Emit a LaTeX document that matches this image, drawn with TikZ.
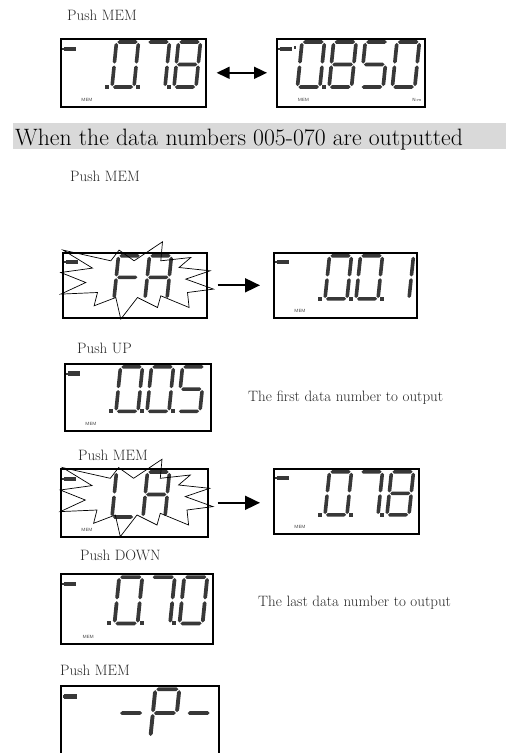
\documentclass[tikz,border=0pt]{standalone}
\usepackage{xcolor}
\usepackage{tikz}
\usetikzlibrary{arrows.meta}
\definecolor{lcd}{HTML}{383838}
\definecolor{banda}{HTML}{D9D9D9}

% segmenti lcd
\newcommand{\hseg}[3]{\fill[lcd] (#1,#3) -- (#1+1.8,#3+1.8) -- (#2-1.8,#3+1.8) -- (#2,#3) -- (#2-1.8,#3-1.8) -- (#1+1.8,#3-1.8) -- cycle;}
\newcommand{\vseg}[3]{\fill[lcd] (#1,#2) -- (#1+1.8,#2+1.8) -- (#1+1.8,#3-1.8) -- (#1,#3) -- (#1-1.8,#3-1.8) -- (#1-1.8,#2+1.8) -- cycle;}
\newcommand{\segA}{\hseg{0.9}{21.1}{45}}
\newcommand{\segB}{\vseg{22}{23.4}{44.1}}
\newcommand{\segC}{\vseg{22}{0.9}{21.6}}
\newcommand{\segD}{\hseg{0.9}{21.1}{0}}
\newcommand{\segE}{\vseg{0}{0.9}{21.6}}
\newcommand{\segF}{\vseg{0}{23.4}{44.1}}
\newcommand{\segG}{\hseg{0.9}{21.1}{22.5}}
\newcommand{\lcddigit}[2]{%
  \begin{scope}[shift={(21+31*#1-31,49)}, xslant=0.1, yscale=-1]
    \foreach \s in {#2} {\csname seg\s\endcsname}
  \end{scope}}
\newcommand{\lcddot}[1]{\fill[lcd] ({21+31*#1-31+24.3},50.8) rectangle ++(3.8,-3.8);}
\newcommand{\battery}{\fill[lcd] (3.5,8.5) rectangle (15.5,13); \fill[lcd] (2.3,9.7) rectangle (3.5,11.8);}
\newcommand{\memtext}[1]{\node[memlbl] (#1) at (27,62) {MEM};}
\newcommand{\burst}[1]{%
  \begin{scope}[shift={(#1)}]
    \draw[starline] (-71.7,-35.2) -- (-24,-24.5) -- (-15.7,-35.2) -- (-0.7,-24.5) -- (27.7,-43.5)
      -- (26,-24.5) -- (56,-27.8) -- (44.3,-17.8) -- (75.3,-14.5) -- (51,-6.2) -- (78.7,3.8)
      -- (52.7,7.2) -- (54.3,22.2) -- (26,10.5) -- (22.7,22.2) -- (2.7,12.2) -- (-14,33.8)
      -- (-19,12.2) -- (-40.7,20.5) -- (-37.3,7.2) -- (-74,8.8) -- (-49,-2.8) -- (-74,-12.8)
      -- (-42.3,-17.2) -- cycle;
  \end{scope}}

\tikzset{
  lcdbox/.style={draw, line width=1.6pt, anchor=north west, inner sep=0pt, fill=white},
  memlbl/.style={font=\fontsize{4.5}{5}\selectfont\sffamily, text=lcd, inner sep=0pt},
  lbl/.style={font=\fontsize{15}{18}\selectfont, text=black!85, inner sep=0pt, anchor=base west},
  titolo/.style={font=\fontsize{23.7}{28}\selectfont, inner sep=0pt, anchor=base west},
  starline/.style={line width=0.7pt, line join=miter},
  arr/.style={line width=1.8pt, -{Triangle[length=15pt,width=14pt]}},
  dblarr/.style={line width=1.6pt, {Triangle[length=13pt,width=12pt]}-{Triangle[length=13pt,width=12pt]}}
}

\begin{document}
\begin{tikzpicture}[x=1pt, y=-1pt]
  \useasboundingbox (0,0) rectangle (524,753);

  % prima riga
  \node[lbl] (push1) at (67,20.7) {Push MEM};
  \node[lcdbox, minimum width=145, minimum height=68] (d1) at (60,38) {};
  \begin{scope}[shift={(60,38)}]
    \battery \memtext{mem1}
    \lcddot{1} \lcddigit{2}{A,B,C,D,E,F} \lcddot{2} \lcddigit{3}{A,B,C} \lcddot{3} \lcddigit{4}{A,B,C,D,E,F,G}
  \end{scope}
  \node[lcdbox, minimum width=148, minimum height=68] (d2) at (276,38) {};
  \begin{scope}[shift={(276,38)}, xscale=148/145]
    \battery \memtext{mem2}
    \fill[lcd] (18,8) rectangle (20,11);
    \node[memlbl] (nm) at (138,62) {N-m};
    \lcddigit{1}{A,B,C,D,E,F} \lcddot{1} \lcddigit{2}{A,B,C,D,E,F,G} \lcddigit{3}{A,C,D,F,G} \lcddigit{4}{A,B,C,D,E,F}
  \end{scope}
  \draw[dblarr, shorten <=10pt, shorten >=9pt] (d1.east) -- (d2.west);

  % fascia
  \fill[banda] (13,123) rectangle (506,149);
  \node[titolo] (tit) at (15,145) {When the data numbers 005-070 are outputted};

  % FA
  \node[lbl] (push2) at (70,181.7) {Push MEM};
  \node[lcdbox, minimum width=144, minimum height=65] (fa) at (62,252) {};
  \begin{scope}[shift={(62,252)}, yscale=65/68]
    \battery
    \lcddigit{2}{A,E,F,G} \lcddigit{3}{A,B,C,E,F,G}
  \end{scope}
  \burst{fa.center}
  \node[lcdbox, minimum width=143, minimum height=65] (d001) at (273,252) {};
  \begin{scope}[shift={(273,252)}, yscale=65/68]
    \battery \memtext{mem3}
    \lcddot{1} \lcddigit{2}{A,B,C,D,E,F} \lcddot{2} \lcddigit{3}{A,B,C,D,E,F} \lcddot{3} \lcddigit{4}{B,C}
  \end{scope}
  \draw[arr, shorten <=10pt, shorten >=13pt] (fa.east) -- (d001.west);

  % UP
  \node[lbl] (push3) at (77,353) {Push UP};
  \node[lcdbox, minimum width=146, minimum height=67] (d005) at (64,363) {};
  \begin{scope}[shift={(64,363)}, yscale=67/68]
    \battery \memtext{mem4}
    \lcddot{1} \lcddigit{2}{A,B,C,D,E,F} \lcddot{2} \lcddigit{3}{A,B,C,D,E,F} \lcddot{3} \lcddigit{4}{A,C,D,F,G}
  \end{scope}
  \node[lbl] (first) at (248,401.7) {The first data number to output};

  % LA
  \node[lbl] (push4) at (78,460) {Push MEM};
  \node[lcdbox, minimum width=147, minimum height=68] (la) at (60,468) {};
  \begin{scope}[shift={(60,468)}]
    \battery \memtext{mem5}
    \lcddigit{2}{D,E,F} \lcddigit{3}{A,B,C,E,F,G}
  \end{scope}
  \burst{la.center}
  \node[lcdbox, minimum width=145, minimum height=65] (d078) at (273,468) {};
  \begin{scope}[shift={(273,468)}, yscale=65/68]
    \battery \memtext{mem6}
    \lcddot{1} \lcddigit{2}{A,B,C,D,E,F} \lcddot{2} \lcddigit{3}{A,B,C} \lcddot{3} \lcddigit{4}{A,B,C,D,E,F,G}
  \end{scope}
  \draw[arr, shorten <=9pt, shorten >=13pt] (la.east) -- (la.east -| d078.west);

  % DOWN
  \node[lbl] (push5) at (80,560.7) {Push DOWN};
  \node[lcdbox, minimum width=152, minimum height=70] (d070) at (60,573) {};
  \begin{scope}[shift={(60,573)}, xscale=152/145, yscale=70/68]
    \battery \memtext{mem7}
    \lcddot{1} \lcddigit{2}{A,B,C,D,E,F} \lcddot{2} \lcddigit{3}{A,B,C} \lcddot{3} \lcddigit{4}{A,B,C,D,E,F}
  \end{scope}
  \node[lbl] (last) at (258,606) {The last data number to output};

  % fine
  \node[lbl] (push6) at (60,675) {Push MEM};
  \node[lcdbox, minimum width=158, minimum height=72] (dp) at (60,685) {};
  \begin{scope}[shift={(60,685)}, xscale=158/145, yscale=72/68]
    \battery
    \lcddigit{2}{G} \lcddigit{3}{A,B,E,F,G} \lcddigit{4}{G}
  \end{scope}
\end{tikzpicture}
\end{document}
